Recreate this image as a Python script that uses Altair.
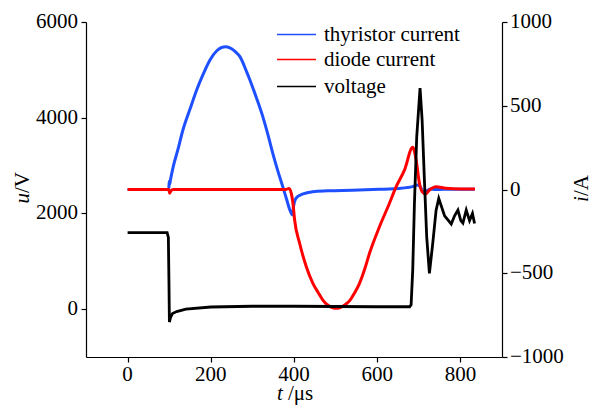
import altair as alt
import pandas as pd

FONT = "Liberation Serif"

series_names = ["thyristor current", "diode current", "voltage"]
series_colors = ["#1e50ff", "#ff0000", "#000000"]

x_ticks = [0, 200, 400, 600, 800]
u_ticks = [0, 2000, 4000, 6000]
i_ticks = [-1000, -500, 0, 500, 1000]

# thyristor current (A)
t_thy = [0, 99, 100, 101, 103, 110, 120, 133, 150, 166, 182, 198, 215, 226, 236,
         250, 260, 270, 285, 294, 310, 325, 337, 349, 360, 373, 382, 390, 396, 399,
         403, 410, 420, 445, 480, 540, 605, 650, 685, 697, 704, 712, 718, 728, 740,
         780, 835]
i_thy = [0, 0, 50, 30, 57, 140, 230, 355, 480, 594, 690, 773, 830, 848, 852,
         840, 820, 793, 710, 654, 545, 435, 330, 216, 120, 17, -57, -122, -152, -100,
         -60, -40, -28, -13, -8, -4, 1, 6, 17, 27, 15, -20, -10, 3, 0,
         2, 1]

# diode current (A)
t_dio = [0, 99, 101, 104, 110, 380, 388, 393.5, 397.5, 401.5, 413.5, 429.6, 445.4,
         458, 469.4, 480, 490, 498, 505.4, 513, 520, 533.5, 545, 557.5, 570, 581.5,
         605.5, 629.5, 645.6, 665.5, 685.4, 693.6, 701.5, 708, 716, 725.5, 741.6,
         765, 800, 835]
i_dio = [0, 0, -22, -8, 0, 0, 6, -23, -82, -182, -321, -461, -560,
         -615, -660, -688, -703, -709, -709, -702, -692, -665, -620, -560, -475, -381,
         -222, -82, 17, 116, 252, 176, 37, -13, -27, -3, 17,
         7, 3, 3]

# voltage (V)
t_volt = [0, 95, 98, 99.5, 100.5, 103, 108, 118, 140, 200, 300, 400, 500, 600, 678,
          681.5, 685.4, 689.5, 695, 703, 708, 713.5, 719, 725.5, 733.5, 741.6, 748,
          762, 778, 786, 794, 801, 806, 814, 822, 829, 834]
u_volt = [1600, 1600, 1500, 500, -270, -180, -90, -50, 0, 45, 60, 60, 55, 50, 50,
          90, 815, 2208, 3600, 4620, 3949, 2695, 1511, 746, 1373, 2068, 2313,
          1950, 1780, 1950, 2070, 1850, 1800, 2070, 1850, 2000, 1790]

df_thy = pd.DataFrame({"t": t_thy, "i": i_thy, "series": series_names[0]})
df_dio = pd.DataFrame({"t": t_dio, "i": i_dio, "series": series_names[1]})
df_volt = pd.DataFrame({"t": t_volt, "u": u_volt, "series": series_names[2]})

color_scale = alt.Scale(domain=series_names, range=series_colors)

axis_style = dict(
    title=None, grid=False, domainColor="black", tickColor="black",
    labels=False, tickSize=5, domainWidth=1.2, tickWidth=1.2,
)

x_scale = alt.Scale(domain=[-100, 900], nice=False, zero=False)
u_scale = alt.Scale(domain=[-1000, 6000], nice=False)
i_scale = alt.Scale(domain=[-1000, 1000], nice=False)

x_enc = alt.X("t:Q", scale=x_scale,
              axis=alt.Axis(values=x_ticks, orient="bottom", **axis_style))
i_axis = alt.Axis(values=i_ticks, orient="right", **axis_style)

thy = alt.Chart(df_thy).mark_line(strokeWidth=3, interpolate="monotone").encode(
    x=x_enc,
    y=alt.Y("i:Q", scale=i_scale, axis=i_axis),
    color=alt.Color("series:N", scale=color_scale, legend=None),
)
dio = alt.Chart(df_dio).mark_line(strokeWidth=3, interpolate="monotone").encode(
    x=x_enc,
    y=alt.Y("i:Q", scale=i_scale, axis=i_axis),
    color=alt.Color("series:N", scale=color_scale, legend=None),
)
currents = alt.layer(thy, dio)

volt = alt.Chart(df_volt).mark_line(strokeWidth=2.8).encode(
    x=x_enc,
    y=alt.Y("u:Q", scale=u_scale,
            axis=alt.Axis(values=u_ticks, orient="left", **axis_style)),
    color=alt.Color("series:N", scale=color_scale, legend=None),
)

lab = dict(font=FONT, fontSize=21, color="black")

x_labels = alt.Chart(pd.DataFrame({"t": x_ticks})).mark_text(
    baseline="top", align="center", **lab
).encode(
    x=x_enc,
    y=alt.value(342),
    text=alt.Text("t:Q", format="d"),
)
u_labels = alt.Chart(pd.DataFrame({"u": u_ticks})).mark_text(
    baseline="middle", align="right", **lab
).encode(
    y=alt.Y("u:Q", scale=u_scale, axis=None),
    x=alt.value(-8),
    text=alt.Text("u:Q", format="d"),
)
i_labels = alt.Chart(pd.DataFrame({"i": i_ticks})).mark_text(
    baseline="middle", align="left", **lab
).encode(
    y=alt.Y("i:Q", scale=i_scale, axis=None),
    x=alt.value(424),
    text=alt.Text("i:Q", format="d"),
)

one = pd.DataFrame({"k": [0]})


def txt(s, x, y, italic=False, angle=0, align="left", baseline="alphabetic"):
    kw = dict(font=FONT, fontSize=21, color="black", align=align, baseline=baseline)
    if italic:
        kw["fontStyle"] = "italic"
    if angle:
        kw["angle"] = angle
    return alt.Chart(one).mark_text(text=s, **kw).encode(x=alt.value(x), y=alt.value(y))


titles = [
    txt("u", -57, 181.5, italic=True, angle=270),
    txt("/V", -57, 171, angle=270),
    txt("i", 502, 180, italic=True, angle=270),
    txt("/A", 502, 174, angle=270),
    txt("t", 191, 378, italic=True),
    txt("/μs", 202, 378),
]

legend_rows = [12.5, 37.5, 64.5]
legend_layers = []
for name, col, yy in zip(series_names, series_colors, legend_rows):
    legend_layers.append(
        alt.Chart(one).mark_rule(color=col, strokeWidth=1.6).encode(
            x=alt.value(191), x2=alt.value(230), y=alt.value(yy))
    )
    legend_layers.append(txt(name, 238, yy, baseline="middle"))

chart = alt.layer(
    currents, volt, x_labels, u_labels, i_labels, *titles, *legend_layers
).resolve_scale(
    y="independent"
).properties(
    width=416, height=335,
    autosize=alt.AutoSizeParams(type="none"),
    padding={"left": 86, "top": 22, "right": 91, "bottom": 51},
).configure(font=FONT).configure_view(stroke=None)

chart.save("out.html", embed_options={"renderer": "svg", "actions": False})
